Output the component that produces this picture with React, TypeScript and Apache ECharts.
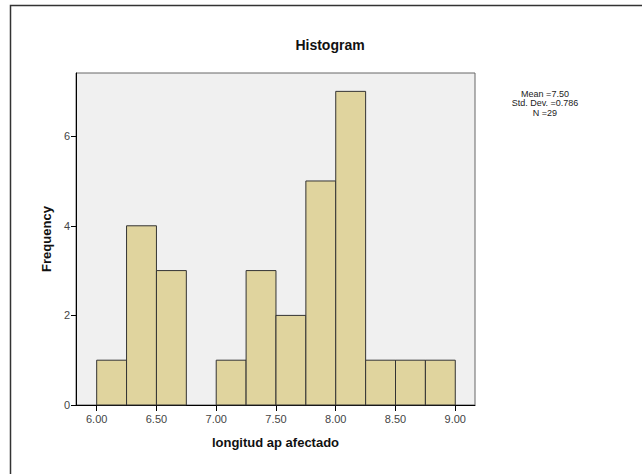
import React, { useEffect, useRef } from "react";
import * as echarts from "echarts";

const binStarts = [6.0, 6.25, 6.5, 6.75, 7.0, 7.25, 7.5, 7.75, 8.0, 8.25, 8.5, 8.75];
const counts = [1, 4, 3, 0, 1, 3, 2, 5, 7, 1, 1, 1];
const binWidth = 0.25;
const xTicks = [6.0, 6.5, 7.0, 7.5, 8.0, 8.5, 9.0];
const yTicks = [0, 2, 4, 6];
const statsLines = ["Mean =7.50", "Std. Dev. =0.786", "N =29"];
const titleText = "Histogram";
const xName = "longitud ap afectado";
const yName = "Frequency";

export default function App() {
  const ref = useRef<HTMLDivElement>(null);
  useEffect(() => {
    if (!ref.current) return;
    const chart = echarts.init(ref.current, null, { renderer: "svg" });
    const data = binStarts.map((s, i) => [s, s + binWidth, counts[i]]);
    chart.setOption({
      animation: false,
      backgroundColor: "#ffffff",
      textStyle: { fontFamily: "Arial, 'Liberation Sans', sans-serif" },
      title: {
        text: titleText,
        left: 325,
        top: 33,
        textAlign: "center",
        textStyle: { fontSize: 14, fontWeight: "bold", color: "#111" },
      },
      graphic: [
        {
          type: "rect",
          shape: { x: 10.5, y: 5.5, width: 700, height: 600 },
          style: { fill: "none", stroke: "#333", lineWidth: 1.5 },
          silent: true,
        },
        ...statsLines.map((t, i) => ({
          type: "text",
          x: 545,
          y: 89 + i * 9.5,
          style: {
            text: t,
            fontSize: 9,
            align: "center",
            verticalAlign: "top",
            fill: "#222",
            fontFamily: "Arial, 'Liberation Sans', sans-serif",
          },
        })),
      ],
      grid: {
        left: 76,
        top: 73,
        right: 167,
        bottom: 69,
        show: true,
        backgroundColor: "#f0f0f0",
        borderColor: "#666",
        borderWidth: 1,
      },
      xAxis: {
        type: "value",
        min: 5.827,
        max: 9.165,
        name: xName,
        nameLocation: "middle",
        nameGap: 31,
        nameTextStyle: { fontSize: 13, fontWeight: "bold", color: "#111" },
        splitLine: { show: false },
        axisLine: { show: true, lineStyle: { color: "#000", width: 1 } },
        axisTick: {
          show: true,
          length: 6,
          customValues: xTicks,
          lineStyle: { color: "#000" },
        },
        axisLabel: {
          customValues: xTicks,
          formatter: (v: number) => v.toFixed(2),
          fontSize: 11,
          color: "#444",
          margin: 8,
        },
      },
      yAxis: {
        type: "value",
        min: 0,
        max: 7.41,
        name: yName,
        nameLocation: "middle",
        nameGap: 19,
        nameTextStyle: { fontSize: 13, fontWeight: "bold", color: "#111" },
        splitLine: { show: false },
        axisLine: { show: true, lineStyle: { color: "#000", width: 1 } },
        axisTick: {
          show: true,
          length: 5,
          customValues: yTicks,
          lineStyle: { color: "#000" },
        },
        axisLabel: {
          customValues: yTicks,
          fontSize: 11,
          color: "#444",
          margin: 6,
        },
      },
      series: [
        {
          type: "custom",
          data,
          encode: { x: [0, 1], y: 2 },
          renderItem: (params: any, api: any) => {
            const x0 = api.value(0);
            const x1 = api.value(1);
            const c = api.value(2);
            if (!c) return null;
            const p0 = api.coord([x0, c]);
            const p1 = api.coord([x1, 0]);
            return {
              type: "rect",
              shape: { x: p0[0], y: p0[1], width: p1[0] - p0[0], height: p1[1] - p0[1] },
              style: { fill: "#e0d49e", stroke: "#333", lineWidth: 1 },
            };
          },
        },
      ],
    });
    return () => chart.dispose();
  }, []);
  return (
    <div
      ref={ref}
      style={{ position: "fixed", left: 0, top: 0, width: 642, height: 474 }}
    />
  );
}
